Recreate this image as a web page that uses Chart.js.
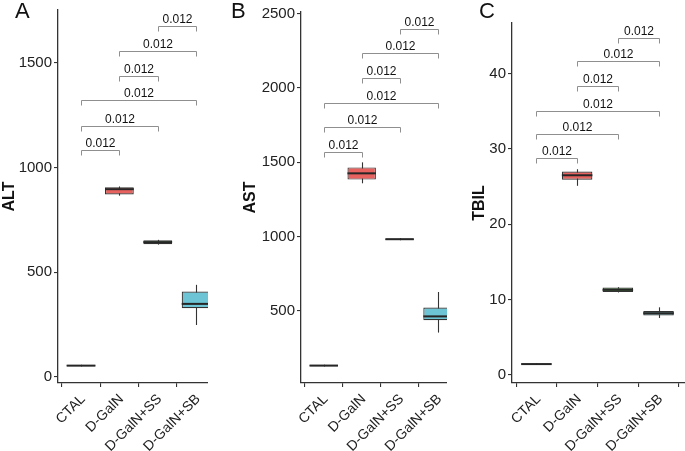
<!DOCTYPE html>
<html><head><meta charset="utf-8">
<script src="https://cdn.jsdelivr.net/npm/chart.js@4.4.1/dist/chart.umd.min.js"></script>
<style>
html,body{margin:0;padding:0;background:#fff;width:685px;height:451px;overflow:hidden;position:relative;font-family:"Liberation Sans",Arial,sans-serif;}
canvas{position:absolute;top:0;}
.lab{position:absolute;top:0;font-size:22px;line-height:22px;color:#111;}
</style></head><body>
<canvas id="cA" width="208" height="451" style="left:0"></canvas>
<canvas id="cB" width="222" height="451" style="left:225px"></canvas>
<canvas id="cC" width="230" height="451" style="left:455px"></canvas>
<div class="lab" style="left:15px">A</div>
<div class="lab" style="left:231px">B</div>
<div class="lab" style="left:479px">C</div>
<script>
const categories = ['CTAL', 'D-GalN', 'D-GalN+SS', 'D-GalN+SB'];
const boxColors = ['#3a3a3a', '#E8625F', '#5BAA50', '#6CC4D4'];

// ALT
const altLow  = [50, 866, 632, 248];
const altQ1   = [51, 872, 634, 328];
const altMed  = [54, 897, 644, 349];
const altQ3   = [57, 906, 653, 408];
const altHigh = [58, 910, 655, 440];
const altTicks = [0, 500, 1000, 1500];
const altBracketY = [1083, 1201, 1321, 1439, 1558, 1678];

// AST
const astLow  = [127, 1359, 976, 355];
const astQ1   = [128, 1384, 977, 438];
const astMed  = [133, 1426, 983, 464];
const astQ3   = [138, 1466, 988, 523];
const astHigh = [139, 1500, 989, 628];
const astTicks = [500, 1000, 1500, 2000, 2500];
const astBracketY = [1567, 1735, 1898, 2064, 2232, 2396];

// TBIL
const tbilLow  = [1.37, 25.1, 10.95, 7.57];
const tbilQ1   = [1.38, 25.9, 11.0, 7.9];
const tbilMed  = [1.45, 26.5, 11.3, 8.2];
const tbilQ3   = [1.52, 27.0, 11.6, 8.5];
const tbilHigh = [1.53, 27.3, 11.65, 8.98];
const tbilTicks = [0, 10, 20, 30, 40];
const tbilBracketY = [28.85, 31.95, 35.04, 38.35, 41.6, 44.7];

const bracketPairs = [[0,1],[0,2],[0,3],[1,2],[1,3],[2,3]];
const bracketLabels = ['0.012','0.012','0.012','0.012','0.012','0.012'];

const FONT = '"Liberation Sans", Arial, sans-serif';

function extrasPlugin(d) {
  return {
    id: 'extras',
    beforeDatasetsDraw(chart) {
      const {ctx, chartArea: a, scales: {x, y}} = chart;
      ctx.save();
      ctx.beginPath(); ctx.rect(a.left, a.top, a.right - a.left, a.bottom - a.top); ctx.clip();
      ctx.strokeStyle = '#333'; ctx.lineWidth = 1.1;
      d.lo.forEach((v, i) => {
        const px = Math.round(x.getPixelForValue(i)) + 0.5;
        ctx.beginPath();
        ctx.moveTo(px, y.getPixelForValue(d.lo[i]));
        ctx.lineTo(px, y.getPixelForValue(d.hi[i]));
        ctx.stroke();
      });
      ctx.restore();
    },
    afterDatasetsDraw(chart) {
      const {ctx, chartArea: a, scales: {x, y}} = chart;
      const meta = chart.getDatasetMeta(0);
      ctx.save();
      ctx.beginPath(); ctx.rect(a.left, a.top, a.right - a.left, a.bottom - a.top); ctx.clip();
      ctx.strokeStyle = '#262626'; ctx.lineWidth = 2;
      d.med.forEach((v, i) => {
        const bar = meta.data[i];
        const px = x.getPixelForValue(i), hw = bar.width / 2;
        const py = y.getPixelForValue(v);
        ctx.beginPath(); ctx.moveTo(px - hw, py); ctx.lineTo(px + hw, py); ctx.stroke();
      });
      ctx.restore();
      // brackets
      ctx.save();
      ctx.strokeStyle = '#8f8f8f'; ctx.lineWidth = 1;
      ctx.fillStyle = '#111';
      ctx.font = '12px ' + FONT;
      ctx.textAlign = 'center'; ctx.textBaseline = 'alphabetic';
      bracketPairs.forEach((p, k) => {
        const x1 = Math.round(x.getPixelForValue(p[0])) + 0.5;
        const x2 = Math.round(x.getPixelForValue(p[1])) + 0.5;
        const yy = Math.round(y.getPixelForValue(d.br[k])) + 0.5;
        ctx.beginPath();
        ctx.moveTo(x1, yy + 5); ctx.lineTo(x1, yy); ctx.lineTo(x2, yy); ctx.lineTo(x2, yy + 5);
        ctx.stroke();
        ctx.fillText(bracketLabels[k], (x1 + x2) / 2, yy - 4);
      });
      ctx.restore();
    }
  };
}

function makeChart(id, d) {
  new Chart(document.getElementById(id), {
    type: 'bar',
    data: {
      datasets: [{
        data: categories.map((c, i) => ({x: i, y: [d.q1[i], d.q3[i]]})),
        backgroundColor: boxColors,
        borderColor: '#333',
        borderWidth: 1.2,
        borderSkipped: false,
        categoryPercentage: 1,
        barPercentage: 0.75
      }]
    },
    plugins: [extrasPlugin(d)],
    options: {
      responsive: false,
      animation: false,
      devicePixelRatio: 1,
      layout: {padding: {top: d.top, left: 0, right: 0, bottom: 0}},
      plugins: {legend: {display: false}, tooltip: {enabled: false}},
      scales: {
        x: {
          type: 'linear',
          offset: false,
          min: -0.6, max: d.xMax,
          afterBuildTicks: s => { s.ticks = categories.map((c, i) => ({value: i})); },
          afterFit: s => { s.height = 68; s.paddingLeft = 0; s.paddingRight = 0; },
          ticks: {
            callback: v => categories[v],
            autoSkip: false, maxRotation: 45, minRotation: 45,
            color: '#222', padding: 4, labelOffset: 2,
            font: {family: FONT, size: 14}
          },
          grid: {drawOnChartArea: false, drawTicks: true, tickLength: 4, color: '#333', lineWidth: 1.1},
          border: {display: true, color: '#333', width: 1.3}
        },
        y: {
          type: 'linear',
          min: d.yMin, max: d.yMax,
          afterBuildTicks: s => { s.ticks = d.ticks.map(v => ({value: v})); },
          afterFit: s => { s.width = d.yWidth; s.paddingTop = 0; s.paddingBottom = 0; },
          ticks: {color: '#222', padding: 2, font: {family: FONT, size: 15}, callback: v => String(v)},
          grid: {drawOnChartArea: false, drawTicks: true, tickLength: 4, color: '#333', lineWidth: 1.1},
          border: {display: true, color: '#333', width: 1.3},
          title: {display: true, text: d.title, color: '#111',
                  font: {family: FONT, size: 16, weight: 'bold'},
                  padding: {top: d.titlePad, bottom: 0}}
        }
      }
    }
  });
}

makeChart('cA', {q1: altQ1, med: altMed, q3: altQ3, lo: altLow, hi: altHigh, br: altBracketY,
  ticks: altTicks, yMin: -29, yMax: 1753, xMax: 3.31, top: 10, yWidth: 58, title: 'ALT', titlePad: 0});
makeChart('cB', {q1: astQ1, med: astMed, q3: astQ3, lo: astLow, hi: astHigh, br: astBracketY,
  ticks: astTicks, yMin: 16, yMax: 2511, xMax: 3.25, top: 12, yWidth: 76, title: 'AST', titlePad: 16});
makeChart('cC', {q1: tbilQ1, med: tbilMed, q3: tbilQ3, lo: tbilLow, hi: tbilHigh, br: tbilBracketY,
  ticks: tbilTicks, yMin: -1.06, yMax: 46.7, xMax: 3.65, top: 23, yWidth: 57, title: 'TBIL', titlePad: 15});
</script>
</body></html>
